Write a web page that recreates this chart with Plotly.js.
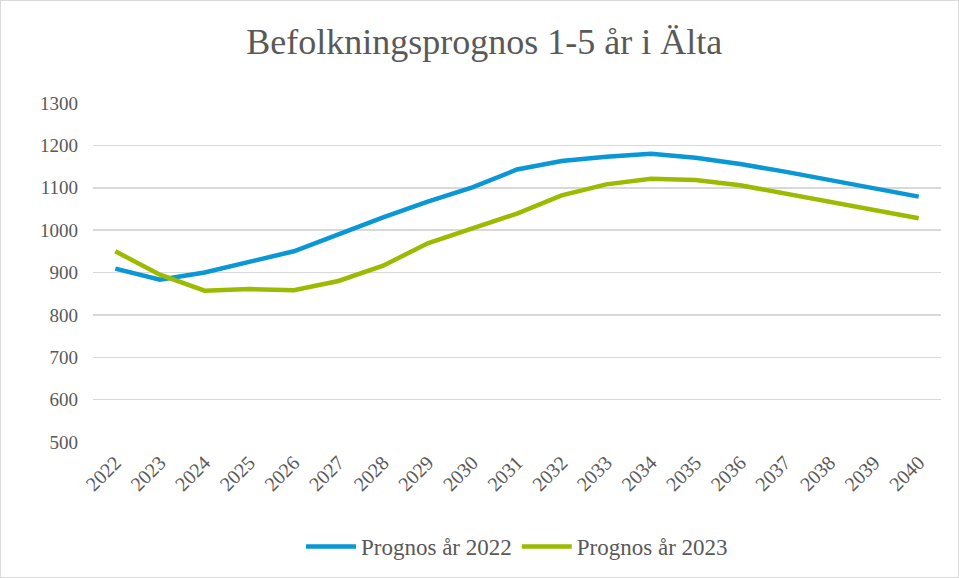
<!DOCTYPE html>
<html><head><meta charset="utf-8">
<script src="https://cdn.plot.ly/plotly-3.0.1.min.js"></script>
<style>html,body{margin:0;padding:0;background:#fff}#c{width:957px;height:576px;border:1px solid #d9d9d9}</style>
</head><body><div id="c"></div>
<script>
const years = ["2022","2023","2024","2025","2026","2027","2028","2029","2030","2031","2032","2033","2034","2035","2036","2037","2038","2039","2040"];
const prognos2022 = [909,883,900,924,950,990,1030,1067,1101,1143,1163,1173,1180,1171,1156,1138,1118,1098,1079];
const prognos2023 = [950,895,857,861,858,880,916,969,1004,1039,1082,1108,1121,1118,1106,1087,1067,1047,1028];
const font = "Liberation Serif";
const gray = "#595959";
Plotly.newPlot("c", [
  {x: years, y: prognos2022, type: "scatter", mode: "lines", name: "Prognos år 2022",
   line: {color: "#0a97d5", width: 4.5}},
  {x: years, y: prognos2023, type: "scatter", mode: "lines", name: "Prognos år 2023",
   line: {color: "#9bbb00", width: 4.5}}
], {
  width: 957, height: 576,
  font: {family: font, color: gray, size: 19},
  margin: {l: 92, r: 17, t: 102, b: 135},
  paper_bgcolor: "#fff", plot_bgcolor: "#fff",
  title: {text: "Befolkningsprognos 1-5 år i Älta", font: {family: font, size: 36, color: gray}, x: 0.505, xanchor: "center", y: 0.93, yanchor: "middle"},
  xaxis: {type: "category", range: [-0.5, 18.5], tickangle: -45, tickfont: {family: font, size: 20, color: gray},
    showgrid: false, zeroline: false, showline: false, ticks: "", ticklen: 0, ticklabelstandoff: 4, automargin: false},
  yaxis: {range: [500, 1300], dtick: 100, tickfont: {family: font, size: 19, color: gray},
    gridcolor: "#d9d9d9", gridwidth: 1.5, zeroline: false, showline: false, ticks: "", ticklabelstandoff: 14, automargin: false},
  legend: {orientation: "h", x: 0.5, xanchor: "center", yref: "container", y: 0.053, yanchor: "middle",
    font: {family: font, size: 23, color: gray}, itemwidth: 50},
  showlegend: true
}, {displayModeBar: false, staticPlot: true});
</script></body></html>
